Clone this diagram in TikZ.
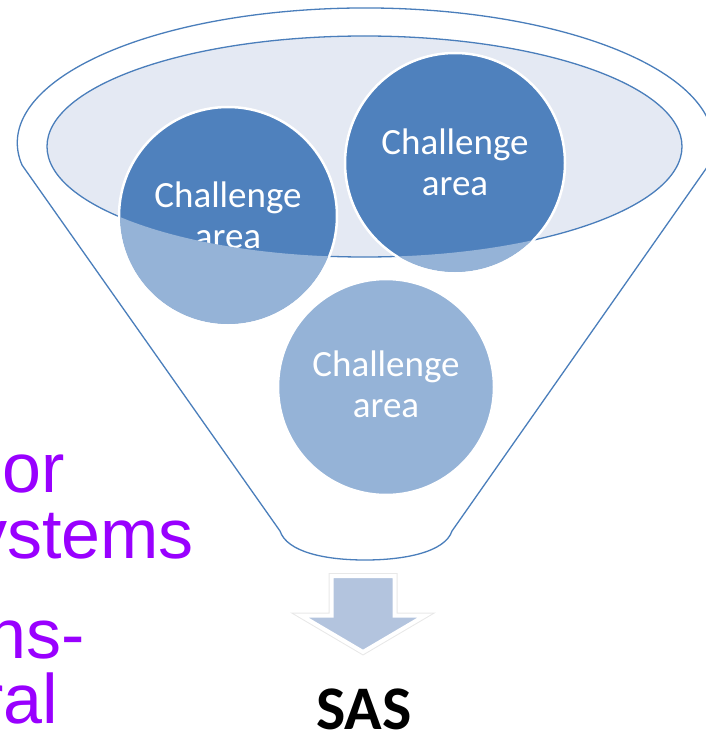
\documentclass[tikz,border=0pt]{standalone}
\usepackage{fontspec}
\setmainfont{Carlito}
\newfontfamily\arialf{Liberation Sans}
\definecolor{fnl}{RGB}{74,126,187}
\definecolor{dk}{RGB}{79,129,189}
\definecolor{lt}{RGB}{149,179,215}
\definecolor{ellfill}{RGB}{228,233,243}
\definecolor{arrfill}{RGB}{179,196,222}
\definecolor{purp}{RGB}{153,0,255}
\tikzset{
  outl/.style={draw=fnl, line width=1.3pt},
  chal/.style={draw=white, line width=2.5pt},
  ctext/.style={text=white, anchor=base, inner sep=0pt, font=\fontsize{37}{41}\selectfont},
  ptext/.style={text=purp, inner sep=0pt, font=\arialf\fontsize{70}{70}\selectfont},
}
\begin{document}
\begin{tikzpicture}[x=1pt,y=-1pt]
\useasboundingbox (0,0) rectangle (706,733);
\clip (0,0) rectangle (706,733);
% funnel body
\path[outl, fill=white] (280,531) -- (22,165)
  arc[start angle=170.6, end angle=369.4, x radius=348, y radius=135]
  -- (452,531) .. controls (445,552) and (405,560) .. (365,560)
  .. controls (325,560) and (287,552) .. (280,531) -- cycle;
% inner ellipse
\path[outl, fill=ellfill] (364.5,146.5) ellipse[x radius=317.5, y radius=110.5];
% circle 1
\path[chal, fill=dk] (228,216) circle[radius=109];
\node[ctext] (c1a) at (228,207) {Challenge};
\node[ctext] (c1b) at (228,248) {area};
% circle 2
\path[chal, fill=dk] (455,163) circle[radius=110];
\node[ctext] (c2a) at (455,154) {Challenge};
\node[ctext] (c2b) at (455,195) {area};
% light parts outside ellipse
\begin{scope}
\clip (228,216) circle[radius=108];
\fill[lt, even odd rule] (0,0) rectangle (706,733) (364.5,146.5) ellipse[x radius=317.5, y radius=110.5];
\end{scope}
\begin{scope}
\clip (455,163) circle[radius=109];
\fill[lt, even odd rule] (0,0) rectangle (706,733) (364.5,146.5) ellipse[x radius=317.5, y radius=110.5];
\end{scope}
% circle 3
\path[chal, fill=lt] (386,387) circle[radius=108];
\node[ctext] (c3a) at (386,376) {Challenge};
\node[ctext] (c3b) at (386,417) {area};
% arrow
\path[draw=black!9, line width=6pt] (331.5,576) -- (394.5,576) -- (394.5,615.5) -- (425,615.5) -- (363,652) -- (301,615.5) -- (331.5,615.5) -- cycle;
\path[draw=white, line width=4pt, fill=arrfill] (331.5,576) -- (394.5,576) -- (394.5,615.5) -- (425,615.5) -- (363,652) -- (301,615.5) -- (331.5,615.5) -- cycle;
% SAS
\node[anchor=base, inner sep=0pt, font=\bfseries\fontsize{62}{62}\selectfont] (sas) at (364,729) {SAS};
% purple cut-off text
\node[ptext, anchor=base west] (t1) at (2,492) {or};
\node[ptext, anchor=base east] (t2) at (194,558) {ystems};
\node[ptext, anchor=base east] (t3) at (85,658) {ns-};
\node[ptext, anchor=base east] (t4) at (58.5,723) {ral};
\end{tikzpicture}
\end{document}
